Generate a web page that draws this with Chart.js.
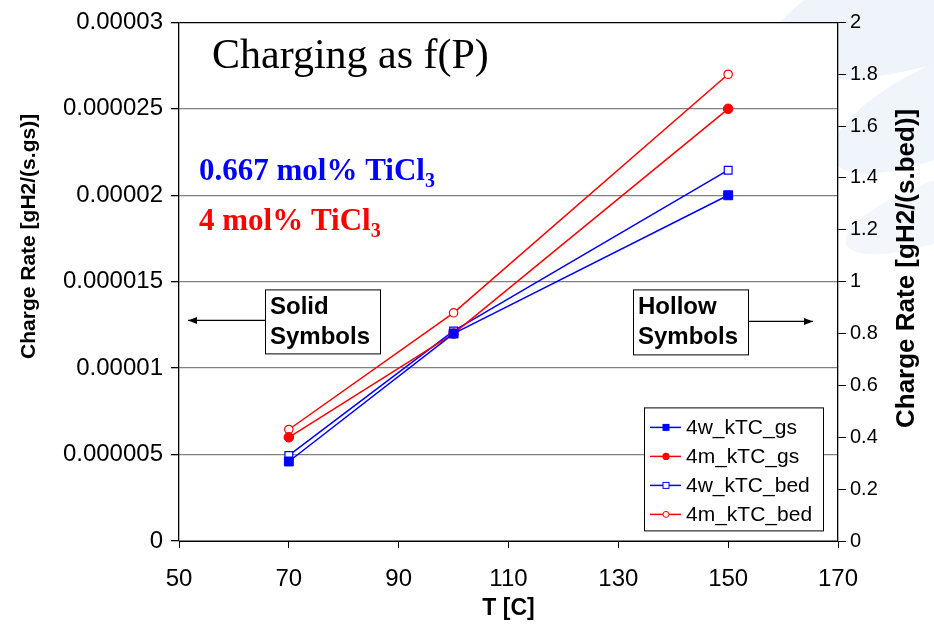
<!DOCTYPE html>
<html>
<head>
<meta charset="utf-8">
<script src="https://cdn.jsdelivr.net/npm/chart.js@4.4.0/dist/chart.umd.min.js"></script>
<style>
  html, body { margin: 0; padding: 0; background: #fff; }
  #wrap { position: relative; width: 934px; height: 627px; overflow: hidden; }
  .swoosh { position: absolute; background: #eef4fa; border-radius: 50%; }
  canvas { position: absolute; left: 0; top: 0; }
</style>
</head>
<body>
<div id="wrap">
  <div class="swoosh" style="left:760px; top:-60px; width:360px; height:120px; transform:rotate(-18deg);"></div>
  <div class="swoosh" style="left:820px; top:60px; width:260px; height:90px; transform:rotate(-25deg); background:#f0f5fb;"></div>
  <div class="swoosh" style="left:840px; top:180px; width:200px; height:60px; transform:rotate(-20deg); background:#f3f7fc;"></div>
  <canvas id="chart" width="934" height="627"></canvas>
</div>
<script>
// temperatures (x values)
const temps = [70, 100, 150];
// left axis series (solid symbols)
const gs4w = [0.0000046, 0.000012, 0.00002];
const gs4m = [0.000006, 0.000012, 0.000025];
// right axis series (hollow symbols)
const bed4w = [0.33, 0.81, 1.43];
const bed4m = [0.43, 0.88, 1.8];

const xTicks = [50, 70, 90, 110, 130, 150, 170];
const leftTicks = [0, 0.000005, 0.00001, 0.000015, 0.00002, 0.000025, 0.00003];
const leftLabels = ['0', '0.000005', '0.00001', '0.000015', '0.00002', '0.000025', '0.00003'];
const rightTicks = [0, 0.2, 0.4, 0.6, 0.8, 1, 1.2, 1.4, 1.6, 1.8, 2];
const rightLabels = ['0', '0.2', '0.4', '0.6', '0.8', '1', '1.2', '1.4', '1.6', '1.8', '2'];

const BLUE = '#0000ff';
const RED = '#ff0000';
const SANS = '"Liberation Sans", Arial, sans-serif';
const SERIF = '"Liberation Serif", "Times New Roman", serif';

function pts(ys) {
  return temps.map((t, i) => ({ x: t, y: ys[i] }));
}

const seriesDefs = [
  { label: '4w_kTC_gs', data: gs4w, color: BLUE, style: 'rect', hollow: false, axis: 'y' },
  { label: '4m_kTC_gs', data: gs4m, color: RED, style: 'circle', hollow: false, axis: 'y' },
  { label: '4w_kTC_bed', data: bed4w, color: BLUE, style: 'rect', hollow: true, axis: 'y2' },
  { label: '4m_kTC_bed', data: bed4m, color: RED, style: 'circle', hollow: true, axis: 'y2' }
];

const datasets = seriesDefs.map(s => ({
  label: s.label,
  data: pts(s.data),
  yAxisID: s.axis,
  borderColor: s.color,
  backgroundColor: s.hollow ? '#ffffff' : s.color,
  borderWidth: 1.5,
  pointStyle: s.style,
  pointRadius: s.style === 'rect' ? (s.hollow ? 5.5 : 6.3) : (s.hollow ? 4.2 : 4.8),
  pointBorderWidth: s.hollow ? 1.2 : 1,
  pointBorderColor: s.color,
  pointBackgroundColor: s.hollow ? '#ffffff' : s.color,
  tension: 0,
  fill: false
}));

const annotations = {
  id: 'annotations',
  beforeDraw(chart) {
    const { ctx, chartArea: a } = chart;
    ctx.save();
    ctx.fillStyle = '#ffffff';
    ctx.fillRect(a.left, a.top, a.right - a.left, a.bottom - a.top);
    ctx.restore();
  },
  afterDraw(chart) {
    const { ctx, chartArea: a } = chart;
    ctx.save();
    ctx.textBaseline = 'alphabetic';
    ctx.textAlign = 'left';

    // axis titles, both read bottom to top
    function vTitle(text, x, y, size) {
      ctx.save();
      ctx.translate(x, y);
      ctx.rotate(-Math.PI / 2);
      ctx.textAlign = 'center';
      ctx.textBaseline = 'middle';
      ctx.fillStyle = '#000';
      ctx.font = 'bold ' + size + 'px ' + SANS;
      ctx.fillText(text, 0, 0);
      ctx.restore();
    }
    vTitle('Charge Rate [gH2/(s.gs)]', 29, a.top + 214, 21);
    vTitle('Charge Rate [gH2/(s.bed)]', 907, a.top + 246, 26);

    // big title
    ctx.fillStyle = '#000';
    ctx.font = '42px ' + SERIF;
    ctx.fillText('Charging as f(P)', a.left + 33, a.top + 46);

    // composition labels with subscript
    function sub(text, x, y, color) {
      ctx.fillStyle = color;
      ctx.font = 'bold 31px ' + SERIF;
      ctx.fillText(text, x, y);
      const w = ctx.measureText(text).width;
      ctx.font = 'bold 20px ' + SERIF;
      ctx.fillText('3', x + w, y + 7);
    }
    sub('0.667 mol% TiCl', a.left + 20, a.top + 158, BLUE);
    sub('4 mol% TiCl', a.left + 20, a.top + 208, RED);

    // boxes with arrows
    function box(x, y, w, h, lines) {
      ctx.fillStyle = '#fff';
      ctx.fillRect(x, y, w, h);
      ctx.strokeStyle = '#000';
      ctx.lineWidth = 1;
      ctx.strokeRect(x + 0.5, y + 0.5, w, h);
      ctx.fillStyle = '#000';
      ctx.font = 'bold 24px ' + SANS;
      ctx.fillText(lines[0], x + 5, y + 25);
      ctx.fillText(lines[1], x + 5, y + 55);
    }
    function arrow(x1, x2, y) {
      ctx.strokeStyle = '#000';
      ctx.fillStyle = '#000';
      ctx.lineWidth = 1.3;
      ctx.beginPath();
      ctx.moveTo(x1, y);
      ctx.lineTo(x2, y);
      ctx.stroke();
      const d = x2 > x1 ? 1 : -1;
      ctx.beginPath();
      ctx.moveTo(x2, y);
      ctx.lineTo(x2 - d * 9, y - 3.5);
      ctx.lineTo(x2 - d * 9, y + 3.5);
      ctx.closePath();
      ctx.fill();
    }
    arrow(a.left + 86, a.left + 9, a.top + 298);
    box(a.left + 86, a.top + 267, 115, 64, ['Solid', 'Symbols']);
    arrow(a.left + 570, a.left + 634, a.top + 299);
    box(a.left + 454, a.top + 267, 115, 65, ['Hollow', 'Symbols']);

    // legend
    const lx = a.left + 465, ly = a.top + 385, lw = 179, lh = 123;
    ctx.fillStyle = '#fff';
    ctx.fillRect(lx, ly, lw, lh);
    ctx.strokeStyle = '#000';
    ctx.lineWidth = 1;
    ctx.strokeRect(lx + 0.5, ly + 0.5, lw, lh);
    seriesDefs.forEach((s, i) => {
      const cy = ly + 20 + i * 29;
      ctx.strokeStyle = s.color;
      ctx.lineWidth = 1.5;
      ctx.beginPath();
      ctx.moveTo(lx + 6, cy);
      ctx.lineTo(lx + 37, cy);
      ctx.stroke();
      ctx.fillStyle = s.hollow ? '#fff' : s.color;
      ctx.lineWidth = 1;
      const cx = lx + 22;
      if (s.style === 'rect') {
        const h = s.hollow ? 3 : 3.5;
        ctx.fillRect(cx - h, cy - h, 2 * h, 2 * h);
        if (s.hollow) ctx.strokeRect(cx - h, cy - h, 2 * h, 2 * h);
      } else {
        ctx.beginPath();
        ctx.arc(cx, cy, s.hollow ? 3 : 3.6, 0, Math.PI * 2);
        ctx.fill();
        if (s.hollow) ctx.stroke();
      }
      ctx.fillStyle = '#000';
      ctx.font = '21px ' + SANS;
      ctx.textBaseline = 'middle';
      ctx.fillText(s.label, lx + 42, cy + 1);
      ctx.textBaseline = 'alphabetic';
    });
    ctx.restore();
  }
};

new Chart(document.getElementById('chart').getContext('2d'), {
  type: 'line',
  data: { datasets },
  plugins: [annotations],
  options: {
    responsive: false,
    animation: false,
    devicePixelRatio: 1,
    layout: { padding: { top: 20, left: 0, right: 0, bottom: 0 } },
    plugins: { legend: { display: false }, tooltip: { enabled: false } },
    scales: {
      x: {
        type: 'linear',
        position: 'bottom',
        min: 50,
        max: 170,
        afterBuildTicks: s => { s.ticks = xTicks.map(v => ({ value: v })); },
        afterFit: s => { s.height = 86; },
        grid: { drawOnChartArea: false, tickLength: 7, color: '#000' },
        border: { color: '#000', width: 1 },
        ticks: { color: '#000', padding: 17, font: { family: SANS, size: 24 } },
        title: { display: true, text: 'T [C]', color: '#000', padding: { top: 0, bottom: 5 },
                 font: { family: SANS, size: 23, weight: 'bold' } }
      },
      y: {
        type: 'linear',
        position: 'left',
        min: 0,
        max: 0.00003,
        afterBuildTicks: s => { s.ticks = leftTicks.map(v => ({ value: v })); },
        afterFit: s => { s.width = 179; },
        grid: {
          tickLength: 8,
          tickColor: '#000',
          color: c => (c.tick && c.tick.value === 0.00003) ? '#000' : '#808080',
          lineWidth: 1.3
        },
        border: { color: '#000', width: 1.3 },
        ticks: {
          color: '#000', padding: 8,
          font: { family: SANS, size: 24 },
          callback: (v, i) => leftLabels[i]
        },
        title: { display: false }
      },
      y2: {
        type: 'linear',
        position: 'right',
        min: 0,
        max: 2,
        afterBuildTicks: s => { s.ticks = rightTicks.map(v => ({ value: v })); },
        afterFit: s => { s.width = 96; },
        grid: { drawOnChartArea: false, tickLength: 8, color: '#000' },
        border: { color: '#000', width: 1.3 },
        ticks: {
          color: '#000', padding: 4,
          font: { family: SANS, size: 20 },
          callback: (v, i) => rightLabels[i]
        },
        title: { display: false }
      }
    }
  }
});
</script>
</body>
</html>
